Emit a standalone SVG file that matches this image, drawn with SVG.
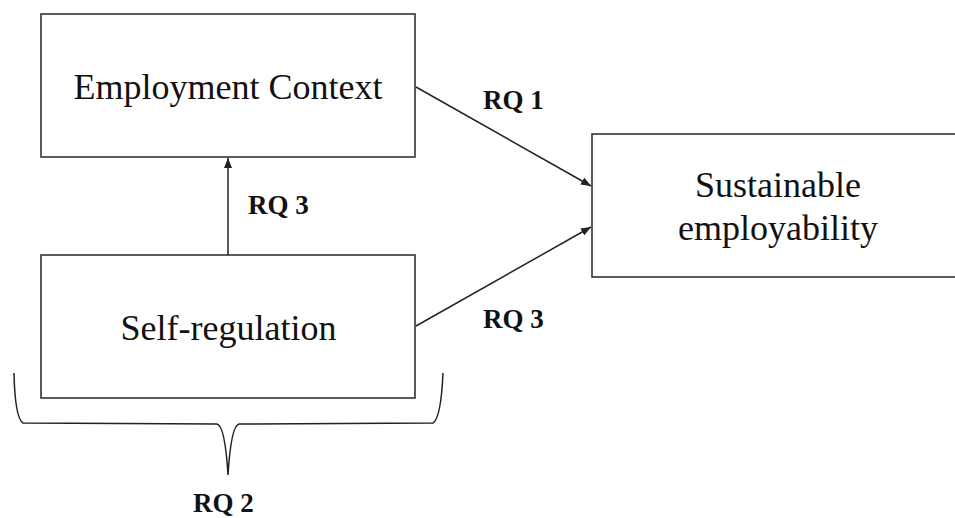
<svg xmlns="http://www.w3.org/2000/svg" width="955" height="518" viewBox="0 0 955 518">
<defs>
<style>
.box{fill:#fff;stroke:#333;stroke-width:1.6}
.lbl{font-family:"Liberation Serif","Times New Roman",serif;font-size:36px;fill:#111;text-anchor:middle}
.rq{font-family:"Liberation Serif","Times New Roman",serif;font-size:27px;font-weight:bold;fill:#111}
.con{fill:none;stroke:#222;stroke-width:1.5}
</style>
<marker id="arr" viewBox="0 0 10 8" refX="10" refY="4" markerWidth="10" markerHeight="8" markerUnits="userSpaceOnUse" orient="auto">
<path d="M0,0 L10,4 L0,8 Z" fill="#222"/>
</marker>
</defs>
<rect width="955" height="518" fill="#fff"/>
<g id="employment-context">
<rect class="box" x="41" y="14" width="374" height="143"/>
<text class="lbl" x="228" y="99">Employment Context</text>
</g>
<g id="self-regulation">
<rect class="box" x="41" y="255" width="374" height="143"/>
<text class="lbl" x="228.5" y="340">Self-regulation</text>
</g>
<g id="sustainable-employability">
<rect class="box" x="592" y="134" width="370" height="143"/>
<text class="lbl" x="778" y="197">Sustainable</text>
<text class="lbl" x="778" y="240">employability</text>
</g>
<g id="connectors">
<line class="con" x1="416" y1="87" x2="591" y2="186" marker-end="url(#arr)"/>
<line class="con" x1="416" y1="326" x2="591" y2="227" marker-end="url(#arr)"/>
<line class="con" x1="228" y1="255" x2="228" y2="158" marker-end="url(#arr)"/>
<path class="con" d="M14,373 Q15,418 23,423 L217,424 Q225,426 228,475 Q231,426 239,424 L433,423 Q441,418 443,373"/>
</g>
<g id="labels">
<text class="rq" x="483" y="109">RQ 1</text>
<text class="rq" x="483" y="328">RQ 3</text>
<text class="rq" x="248" y="214">RQ 3</text>
<text class="rq" x="193" y="512">RQ 2</text>
</g>
</svg>
